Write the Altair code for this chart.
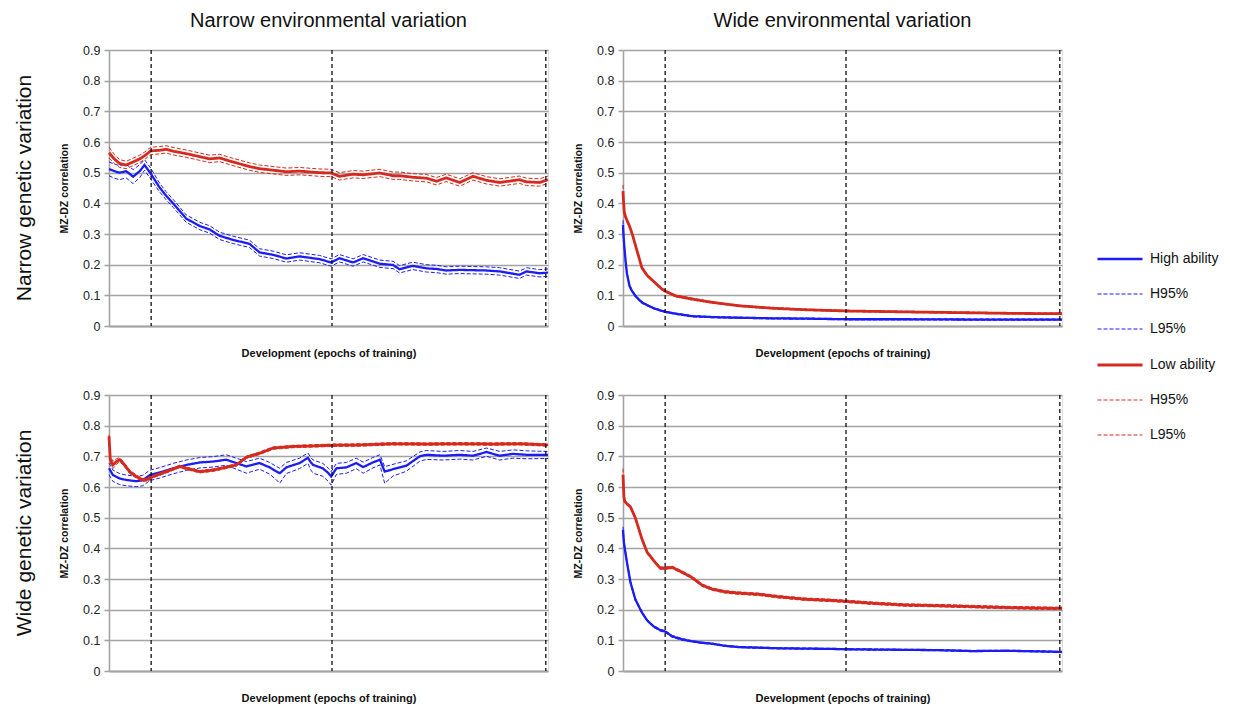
import altair as alt
import pandas as pd

GEN = ["Narrow genetic variation", "Wide genetic variation"]
ENV = ["Narrow environmental variation", "Wide environmental variation"]

KEYS = ["hi", "hi_h", "hi_l", "lo", "lo_h", "lo_l"]
BLUE = "#1c1cf5"
RED = "#d42a1f"

# dashed vertical markers (epochs)
RULE_X = [96, 508, 995]

# ---------- Narrow genetic / Narrow environmental ----------
x_tl = [0, 12, 24, 39, 55, 70, 81, 95, 115, 130, 146, 176, 207, 229, 252, 282, 320, 343, 374, 404, 434,
        480, 506, 525, 556, 579, 617, 647, 662, 692, 723, 746, 768, 799, 829, 860, 890, 935, 951, 981, 1000]
tl_hi = [0.512, 0.505, 0.500, 0.505, 0.487, 0.505, 0.525, 0.497, 0.452, 0.425, 0.400, 0.350, 0.326, 0.315, 0.294,
         0.281, 0.268, 0.240, 0.232, 0.220, 0.227, 0.218, 0.207, 0.221, 0.207, 0.221, 0.203, 0.199, 0.185, 0.196,
         0.188, 0.186, 0.181, 0.183, 0.182, 0.181, 0.178, 0.167, 0.178, 0.172, 0.174]
tl_hi_h = [0.535, 0.528, 0.523, 0.527, 0.510, 0.526, 0.542, 0.515, 0.466, 0.438, 0.413, 0.362, 0.338, 0.327, 0.306,
           0.293, 0.280, 0.252, 0.244, 0.232, 0.239, 0.230, 0.219, 0.233, 0.219, 0.233, 0.215, 0.211, 0.197, 0.208,
           0.200, 0.198, 0.193, 0.195, 0.194, 0.193, 0.190, 0.179, 0.190, 0.184, 0.186]
tl_hi_l = [0.490, 0.482, 0.477, 0.483, 0.464, 0.484, 0.508, 0.479, 0.438, 0.412, 0.387, 0.338, 0.314, 0.303, 0.282,
           0.269, 0.256, 0.228, 0.220, 0.208, 0.215, 0.206, 0.195, 0.209, 0.195, 0.209, 0.191, 0.187, 0.173, 0.184,
           0.176, 0.174, 0.169, 0.171, 0.170, 0.169, 0.166, 0.155, 0.166, 0.160, 0.162]
tl_lo = [0.565, 0.545, 0.530, 0.525, 0.535, 0.545, 0.555, 0.571, 0.573, 0.576, 0.570, 0.562, 0.552, 0.545, 0.548,
         0.535, 0.520, 0.513, 0.508, 0.503, 0.505, 0.500, 0.499, 0.488, 0.495, 0.493, 0.499, 0.490, 0.490, 0.485,
         0.482, 0.472, 0.483, 0.468, 0.488, 0.475, 0.468, 0.477, 0.470, 0.468, 0.477]
tl_lo_h = [0.583, 0.560, 0.543, 0.537, 0.547, 0.557, 0.567, 0.583, 0.585, 0.588, 0.582, 0.574, 0.564, 0.557, 0.560,
           0.547, 0.532, 0.525, 0.520, 0.515, 0.517, 0.512, 0.511, 0.500, 0.507, 0.505, 0.511, 0.502, 0.502, 0.497,
           0.494, 0.484, 0.495, 0.480, 0.500, 0.487, 0.480, 0.489, 0.482, 0.480, 0.489]
tl_lo_l = [0.548, 0.530, 0.517, 0.513, 0.523, 0.533, 0.543, 0.559, 0.561, 0.564, 0.558, 0.550, 0.540, 0.533, 0.536,
           0.523, 0.508, 0.501, 0.496, 0.491, 0.493, 0.488, 0.487, 0.476, 0.483, 0.481, 0.487, 0.478, 0.478, 0.473,
           0.470, 0.460, 0.471, 0.456, 0.476, 0.463, 0.456, 0.465, 0.458, 0.456, 0.465]

# ---------- Narrow genetic / Wide environmental ----------
x_tr = [0, 1, 3, 6, 9, 15, 21, 30, 43, 55, 70, 89, 97, 120, 157, 203, 264, 340, 416, 509, 644, 796, 900, 1000]
tr_hi = [0.330, 0.300, 0.260, 0.210, 0.170, 0.130, 0.113, 0.095, 0.077, 0.068, 0.058, 0.049, 0.046, 0.040, 0.032,
         0.029, 0.027, 0.025, 0.024, 0.022, 0.022, 0.021, 0.021, 0.021]
tr_hi_h = [0.345, 0.312, 0.268, 0.216, 0.175, 0.134, 0.116, 0.098, 0.080, 0.070, 0.060, 0.051, 0.048, 0.042, 0.034,
           0.031, 0.029, 0.027, 0.026, 0.024, 0.024, 0.023, 0.023, 0.023]
tr_hi_l = [0.315, 0.288, 0.252, 0.204, 0.165, 0.126, 0.110, 0.092, 0.074, 0.066, 0.056, 0.047, 0.044, 0.038, 0.030,
           0.027, 0.025, 0.023, 0.022, 0.020, 0.020, 0.019, 0.019, 0.019]
tr_lo = [0.440, 0.410, 0.370, 0.355, 0.345, 0.325, 0.300, 0.255, 0.190, 0.165, 0.145, 0.120, 0.113, 0.098, 0.088,
         0.077, 0.066, 0.058, 0.053, 0.049, 0.046, 0.043, 0.041, 0.040]
tr_lo_h = [0.460, 0.420, 0.377, 0.360, 0.349, 0.329, 0.304, 0.259, 0.194, 0.168, 0.148, 0.123, 0.116, 0.101, 0.091,
           0.079, 0.068, 0.060, 0.055, 0.051, 0.048, 0.045, 0.043, 0.042]
tr_lo_l = [0.420, 0.400, 0.363, 0.350, 0.341, 0.321, 0.296, 0.251, 0.186, 0.162, 0.142, 0.117, 0.110, 0.095, 0.085,
           0.075, 0.064, 0.056, 0.051, 0.047, 0.044, 0.041, 0.039, 0.038]

# ---------- Wide genetic / Narrow environmental ----------
x_bl_hi = [0, 9, 24, 39, 62, 77, 93, 115, 146, 176, 207, 237, 267, 290, 313, 343, 366, 380, 389, 404, 434, 453,
           460, 465, 487, 500, 506, 518, 541, 563, 579, 601, 617, 622, 628, 647, 677, 708, 723, 761, 799, 829,
           860, 890, 920, 951, 1000]
bl_hi = [0.661, 0.639, 0.628, 0.623, 0.619, 0.622, 0.639, 0.647, 0.661, 0.672, 0.680, 0.683, 0.689, 0.678, 0.667,
         0.678, 0.664, 0.652, 0.645, 0.664, 0.678, 0.695, 0.680, 0.672, 0.661, 0.645, 0.634, 0.661, 0.664, 0.678,
         0.665, 0.680, 0.689, 0.672, 0.650, 0.658, 0.669, 0.700, 0.705, 0.702, 0.705, 0.702, 0.714, 0.702, 0.708,
         0.705, 0.705]
bl_hi_h = [0.678, 0.655, 0.644, 0.639, 0.635, 0.638, 0.655, 0.663, 0.677, 0.688, 0.696, 0.699, 0.705, 0.694, 0.683,
           0.694, 0.680, 0.668, 0.661, 0.680, 0.694, 0.711, 0.696, 0.688, 0.677, 0.661, 0.650, 0.677, 0.680, 0.694,
           0.681, 0.696, 0.705, 0.688, 0.666, 0.674, 0.685, 0.714, 0.719, 0.716, 0.719, 0.716, 0.727, 0.716, 0.721,
           0.718, 0.716]
bl_hi_l = [0.640, 0.618, 0.608, 0.604, 0.601, 0.604, 0.621, 0.629, 0.643, 0.654, 0.662, 0.665, 0.671, 0.658, 0.645,
           0.658, 0.642, 0.625, 0.612, 0.644, 0.660, 0.677, 0.655, 0.645, 0.635, 0.618, 0.606, 0.641, 0.645, 0.660,
           0.645, 0.662, 0.672, 0.645, 0.612, 0.636, 0.651, 0.684, 0.690, 0.688, 0.691, 0.688, 0.700, 0.688, 0.694,
           0.692, 0.693]
x_bl_lo = [0, 3, 9, 17, 24, 32, 47, 62, 77, 89, 100, 131, 161, 184, 207, 237, 267, 290, 313, 343, 374, 419, 465,
           506, 571, 647, 723, 799, 875, 935, 1000]
bl_lo = [0.765, 0.689, 0.672, 0.683, 0.689, 0.678, 0.650, 0.634, 0.623, 0.625, 0.634, 0.650, 0.667, 0.658, 0.650,
         0.655, 0.664, 0.672, 0.697, 0.710, 0.727, 0.732, 0.734, 0.736, 0.737, 0.741, 0.740, 0.741, 0.740, 0.741,
         0.737]
bl_lo_h = [0.770, 0.700, 0.684, 0.692, 0.696, 0.684, 0.656, 0.639, 0.628, 0.630, 0.638, 0.654, 0.671, 0.662, 0.654,
           0.659, 0.668, 0.676, 0.701, 0.714, 0.731, 0.736, 0.738, 0.740, 0.741, 0.745, 0.744, 0.745, 0.744, 0.745,
           0.741]
bl_lo_l = [0.760, 0.678, 0.660, 0.674, 0.682, 0.672, 0.644, 0.629, 0.618, 0.620, 0.630, 0.646, 0.663, 0.654, 0.646,
           0.651, 0.660, 0.668, 0.693, 0.706, 0.723, 0.728, 0.730, 0.732, 0.733, 0.737, 0.736, 0.737, 0.736, 0.737,
           0.733]

# ---------- Wide genetic / Wide environmental ----------
x_br = [0, 2, 4, 9, 17, 28, 43, 55, 70, 85, 97, 112, 135, 157, 180, 203, 233, 264, 310, 355, 416, 477, 509, 568,
        644, 720, 796, 872, 948, 1000]
br_hi = [0.460, 0.420, 0.400, 0.354, 0.289, 0.234, 0.191, 0.165, 0.145, 0.133, 0.128, 0.113, 0.103, 0.097, 0.092,
         0.089, 0.082, 0.078, 0.076, 0.074, 0.073, 0.072, 0.071, 0.070, 0.069, 0.068, 0.065, 0.066, 0.064, 0.062]
br_hi_h = [0.470, 0.428, 0.406, 0.359, 0.293, 0.238, 0.194, 0.168, 0.148, 0.136, 0.131, 0.116, 0.106, 0.099, 0.094,
           0.091, 0.084, 0.080, 0.078, 0.076, 0.075, 0.074, 0.073, 0.072, 0.071, 0.070, 0.067, 0.068, 0.066, 0.064]
br_hi_l = [0.450, 0.412, 0.394, 0.349, 0.285, 0.230, 0.188, 0.162, 0.142, 0.130, 0.125, 0.110, 0.100, 0.095, 0.090,
           0.087, 0.080, 0.076, 0.074, 0.072, 0.071, 0.070, 0.069, 0.068, 0.067, 0.066, 0.063, 0.064, 0.062, 0.060]
br_lo = [0.640, 0.570, 0.553, 0.545, 0.535, 0.500, 0.431, 0.387, 0.360, 0.335, 0.335, 0.338, 0.322, 0.305, 0.280,
         0.267, 0.258, 0.254, 0.250, 0.242, 0.234, 0.230, 0.227, 0.221, 0.215, 0.213, 0.210, 0.207, 0.205, 0.204]
br_lo_h = [0.660, 0.580, 0.558, 0.549, 0.539, 0.504, 0.435, 0.391, 0.364, 0.339, 0.339, 0.342, 0.326, 0.309, 0.284,
           0.271, 0.262, 0.258, 0.254, 0.246, 0.238, 0.234, 0.231, 0.225, 0.219, 0.217, 0.214, 0.211, 0.209, 0.208]
br_lo_l = [0.620, 0.560, 0.548, 0.541, 0.531, 0.496, 0.427, 0.383, 0.356, 0.331, 0.331, 0.334, 0.318, 0.301, 0.276,
           0.263, 0.254, 0.250, 0.246, 0.238, 0.230, 0.226, 0.223, 0.217, 0.211, 0.209, 0.206, 0.203, 0.201, 0.200]

PANELS = [
    (GEN[0], ENV[0], [(x_tl, {"hi": tl_hi, "hi_h": tl_hi_h, "hi_l": tl_hi_l}),
                      (x_tl, {"lo": tl_lo, "lo_h": tl_lo_h, "lo_l": tl_lo_l})]),
    (GEN[0], ENV[1], [(x_tr, {"hi": tr_hi, "hi_h": tr_hi_h, "hi_l": tr_hi_l}),
                      (x_tr, {"lo": tr_lo, "lo_h": tr_lo_h, "lo_l": tr_lo_l})]),
    (GEN[1], ENV[0], [(x_bl_hi, {"hi": bl_hi, "hi_h": bl_hi_h, "hi_l": bl_hi_l}),
                      (x_bl_lo, {"lo": bl_lo, "lo_h": bl_lo_h, "lo_l": bl_lo_l})]),
    (GEN[1], ENV[1], [(x_br, {"hi": br_hi, "hi_h": br_hi_h, "hi_l": br_hi_l}),
                      (x_br, {"lo": br_lo, "lo_h": br_lo_h, "lo_l": br_lo_l})]),
]

rows = []
for gen, env, groups in PANELS:
    for xs, series in groups:
        for key, ys in series.items():
            for xv, yv in zip(xs, ys):
                rows.append({"gen": gen, "env": env, "series": key, "x": xv, "y": yv})
    for rx in RULE_X:
        rows.append({"gen": gen, "env": env, "series": "rule", "x": rx, "y": 0.0})
df = pd.DataFrame(rows)

FONT = "Liberation Sans"
GRID = "#a3a3a3"

label_expr = ("{'hi':'High ability','hi_h':'H95%','hi_l':'L95%',"
              "'lo':'Low ability','lo_h':'H95%','lo_l':'L95%'}[datum.value]")

x_enc = alt.X("x:Q", scale=alt.Scale(domain=[0, 1000], nice=False, zero=False),
              axis=alt.Axis(title="Development (epochs of training)", labels=False, ticks=False,
                            grid=False, domainColor=GRID, domainWidth=2,
                            titleFontSize=11, titleFontWeight="bold", titleFont=FONT,
                            titleColor="#111", titlePadding=21))
y_enc = alt.Y("y:Q", scale=alt.Scale(domain=[0, 0.9], nice=False),
              axis=alt.Axis(title="MZ-DZ correlation",
                            values=[0, 0.1, 0.2, 0.3, 0.4, 0.5, 0.6, 0.7, 0.8, 0.9],
                            labelExpr="datum.value == 0 ? '0' : format(datum.value, '.1f')",
                            grid=True, gridColor=GRID, gridWidth=1.6,
                            domainColor=GRID, domainWidth=1.6,
                            tickColor=GRID, tickSize=5, tickWidth=1.6,
                            labelFont=FONT, labelFontSize=12.5, labelColor="#222", labelPadding=4,
                            titleFont=FONT, titleFontSize=10.5, titleFontWeight="bold",
                            titleColor="#111", titlePadding=13))

lines = alt.Chart().transform_filter("datum.series != 'rule'").mark_line(
    interpolate="linear").encode(
    x=x_enc,
    y=y_enc,
    color=alt.Color("series:N", title=None,
                    scale=alt.Scale(domain=KEYS, range=[BLUE, BLUE, BLUE, RED, RED, RED]),
                    legend=alt.Legend(orient="none", legendX=987, legendY=185,
                                      labelExpr=label_expr, symbolType="stroke",
                                      symbolSize=2025, labelFont=FONT, labelFontSize=14,
                                      labelColor="#111", rowPadding=5, labelOffset=6)),
    strokeDash=alt.StrokeDash("series:N", title=None,
                              scale=alt.Scale(type="ordinal", domain=KEYS,
                                              range=[[1, 0], [4, 2], [4, 2], [1, 0], [4, 2], [4, 2]])),
    strokeWidth=alt.StrokeWidth("series:N", title=None,
                                scale=alt.Scale(type="ordinal", domain=KEYS,
                                                range=[2.3, 1, 1, 2.8, 1, 1])),
    order=alt.Order("x:Q"),
)

rules = alt.Chart().transform_filter("datum.series == 'rule'").mark_rule(
    color="#111", strokeDash=[4, 3], strokeWidth=1.3).encode(x=alt.X("x:Q"))

chart = alt.layer(lines, rules, data=df).properties(width=439, height=276).facet(
    row=alt.Row("gen:N", title=None, sort=GEN,
                header=alt.Header(labelAngle=-90, labelOrient="left", labelFont=FONT,
                                  labelFontSize=21, labelColor="#111", labelPadding=13)),
    column=alt.Column("env:N", title=None, sort=ENV,
                      header=alt.Header(labelFont=FONT, labelFontSize=20, labelColor="#111",
                                        labelPadding=12)),
    spacing={"row": 29, "column": 18},
).resolve_axis(x="independent", y="independent").properties(
    padding={"left": 13, "top": 11, "right": 2, "bottom": 0}
).configure_view(strokeWidth=0).configure(background="white")

chart.save("out.html", embed_options={"renderer": "svg", "actions": False})
